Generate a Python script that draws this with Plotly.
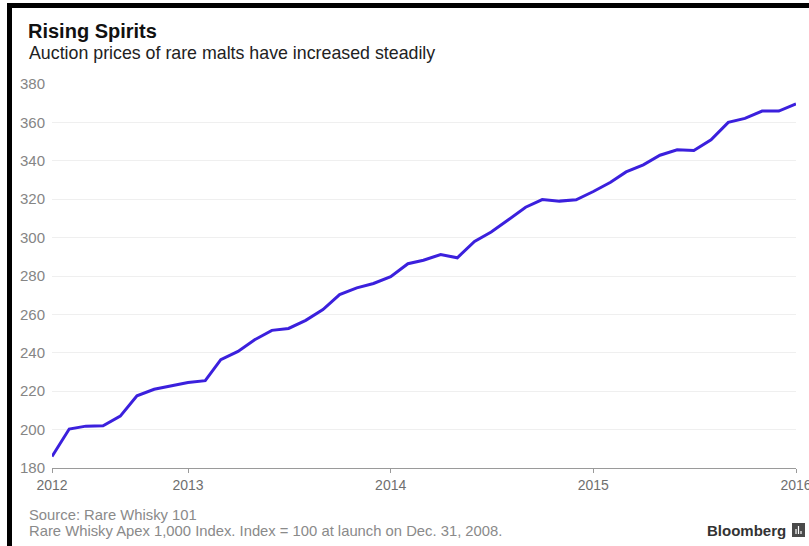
import pandas as pd
import plotly.graph_objects as go

# ---- data ----
months = [d.strftime("%Y-%m-%d") for d in pd.date_range("2012-05-01", "2016-01-01", freq="MS")]
index_values = [
    186.0, 200.3, 201.8, 202.0, 207.0, 217.6, 221.0, 222.8,   # May-Dec 2012
    224.5, 225.5, 236.4, 240.7, 246.8, 251.7, 252.7, 256.9,   # 2013
    262.5, 270.3, 273.8, 276.1,
    279.6, 286.4, 288.2, 291.2, 289.5, 298.0, 302.9, 309.3,   # 2014
    315.8, 319.8, 319.0, 319.7,
    324.0, 328.8, 334.2, 337.9, 342.9, 345.7, 345.4, 350.9,   # 2015
    360.0, 362.1, 365.9, 365.9,
    369.6,                                                    # Jan 2016
]
tick_dates = ["2012-05-01", "2013-01-01", "2014-01-01", "2015-01-01", "2016-01-01"]
tick_labels = ["2012", "2013", "2014", "2015", "2016"]
y_ticks = [180, 200, 220, 240, 260, 280, 300, 320, 340, 360, 380]

title = "Rising Spirits"
subtitle = "Auction prices of rare malts have increased steadily"
source = "Source: Rare Whisky 101"
note = "Rare Whisky Apex 1,000 Index. Index = 100 at launch on Dec. 31, 2008."

# ---- layout geometry (pixels) ----
W, H = 809, 546
L, R, T, B = 52, 13, 84, 78
PW, PH = W - L - R, H - T - B


def px(x):
    return (x - L) / PW


def py(y):
    return (H - B - y) / PH


fig = go.Figure()
fig.add_trace(go.Scatter(
    x=months, y=index_values, mode="lines",
    line=dict(color="#3b20dd", width=3), hoverinfo="x+y",
))

FONT = "Liberation Sans, Arial, sans-serif"

fig.update_layout(
    width=W, height=H,
    margin=dict(l=L, r=R, t=T, b=B, autoexpand=False),
    paper_bgcolor="white", plot_bgcolor="white",
    showlegend=False,
    font=dict(family=FONT, color="#777777", size=14),
    xaxis=dict(
        type="date", range=["2012-05-01", "2016-01-01"],
        tickvals=tick_dates, ticktext=tick_labels,
        showgrid=False, zeroline=False,
        showline=True, linecolor="#9a9a9a", linewidth=1,
        ticks="outside", ticklen=4, tickcolor="#9a9a9a", tickwidth=1,
        tickfont=dict(size=14, color="#6f6f6f"),
        ticklabeloverflow="allow",
        automargin=False,
    ),
    yaxis=dict(
        range=[180, 380], tickvals=y_ticks,
        showgrid=True, gridcolor="#efefef", gridwidth=1,
        zeroline=False, showline=False, ticks="",
        ticklabelstandoff=6,
        tickfont=dict(size=15, color="#858585"),
        automargin=False,
    ),
)

annos = [
    dict(text="<b>" + title + "</b>", x=px(26), y=py(31), size=20, color="#111111"),
    dict(text=subtitle, x=px(27), y=py(53), size=17.8, color="#222222"),
    dict(text=source, x=px(27), y=py(515), size=14.8, color="#8a8a8a"),
    dict(text=note, x=px(27), y=py(531), size=14.8, color="#8a8a8a"),
]
for a in annos:
    fig.add_annotation(
        text=a["text"], x=a["x"], y=a["y"], xref="paper", yref="paper",
        xanchor="left", yanchor="middle", showarrow=False,
        font=dict(family=FONT, size=a["size"], color=a["color"]),
    )

fig.add_annotation(
    text="<b>Bloomberg</b>", x=px(788), y=py(530), xref="paper", yref="paper",
    xanchor="right", yanchor="middle", showarrow=False,
    font=dict(family=FONT, size=15, color="#333333"),
)

# Bloomberg logo glyph
fig.add_shape(type="rect", xref="paper", yref="paper",
              x0=px(792), x1=px(805), y0=py(537), y1=py(523),
              fillcolor="#4a4a4a", line=dict(width=0))
for bx, top in [(796, 529), (798.5, 526), (801, 531)]:
    fig.add_shape(type="line", xref="paper", yref="paper",
                  x0=px(bx), x1=px(bx), y0=py(534), y1=py(top),
                  line=dict(color="white", width=1.2))

# black frame (top and left edges)
fig.add_shape(type="line", xref="paper", yref="paper",
              x0=px(7), x1=px(812), y0=py(5.5), y1=py(5.5),
              line=dict(color="black", width=5))
fig.add_shape(type="line", xref="paper", yref="paper",
              x0=px(9.5), x1=px(9.5), y0=py(3), y1=py(550),
              line=dict(color="black", width=5))

fig.write_html(
    "out.html",
    config={"displayModeBar": False},
    post_script="document.body.style.margin='0';document.body.style.overflow='hidden';",
)
